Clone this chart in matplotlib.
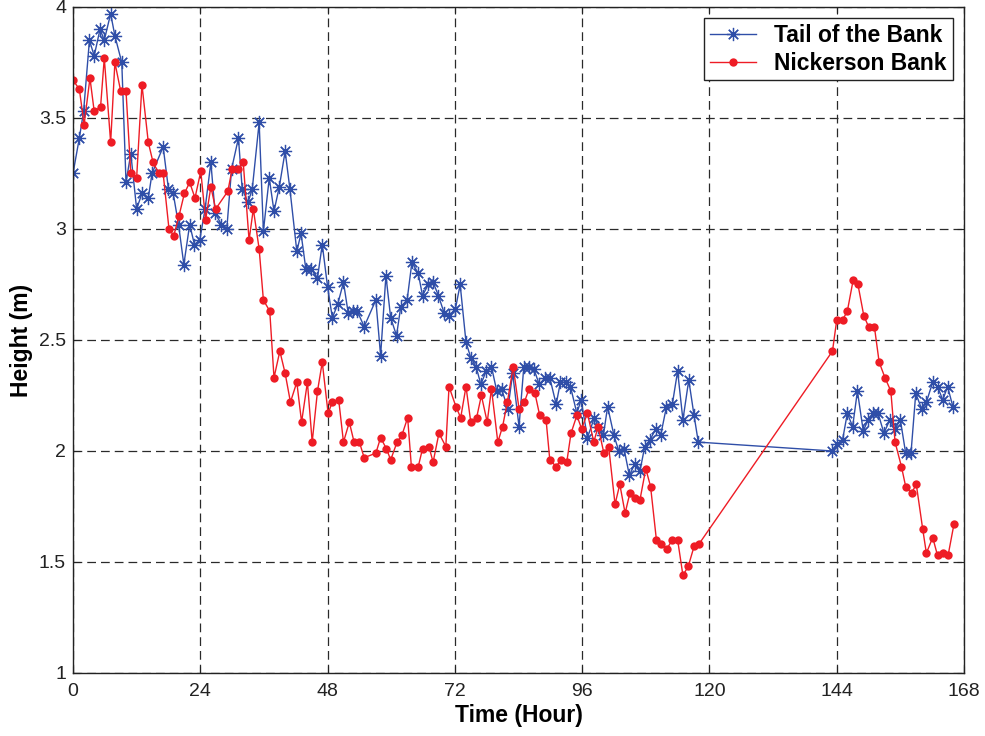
import matplotlib
matplotlib.use("Agg")
import matplotlib.pyplot as plt

# Tail of the Bank (hours, metres)
tail_t = [0.0, 1.2, 2.0, 3.1, 4.0, 5.1, 5.9, 7.1, 7.9, 9.2, 10.0, 10.9, 12.0, 13.0,
          14.2, 14.9, 17.0, 18.0, 18.9, 19.9, 20.9, 22.0, 22.9, 23.9, 24.9, 26.0,
          26.8, 28.0, 29.0, 29.9, 31.2, 31.9, 33.0, 33.8, 35.1, 35.9, 37.0, 37.9,
          38.9, 40.0, 40.9, 42.2, 43.0, 43.9, 44.9, 46.1, 47.0, 48.0, 48.9, 49.9,
          51.0, 51.9, 52.8, 53.6, 54.9, 57.1, 58.0, 59.0, 59.9, 61.0, 61.8, 63.0,
          63.9, 65.1, 65.9, 67.0, 67.9, 68.9, 70.0, 70.9, 72.1, 73.0, 74.1, 75.0,
          76.0, 76.9, 77.9, 78.9, 79.9, 80.8, 82.0, 82.9, 84.1, 85.0, 86.0, 86.9,
          87.9, 89.0, 89.9, 91.1, 91.9, 92.9, 93.8, 95.0, 95.8, 97.0, 98.3, 99.0,
          100.0, 100.8, 102.0, 102.9, 103.9, 104.9, 105.9, 106.9, 107.8, 108.8,
          109.9, 110.8, 111.9, 113.0, 114.0, 115.0, 116.1, 117.1, 117.9,
          143.2, 144.0, 145.1, 146.0, 147.0, 147.9, 149.0, 149.9, 150.9, 151.8,
          152.9, 154.0, 155.0, 156.0, 157.0, 158.0, 158.9, 160.0, 160.9, 162.1,
          163.0, 164.0, 164.9, 165.9]
tail_h = [3.25, 3.41, 3.53, 3.85, 3.78, 3.90, 3.85, 3.97, 3.87, 3.75, 3.21, 3.34, 3.09, 3.16,
          3.14, 3.25, 3.37, 3.18, 3.16, 3.02, 2.84, 3.02, 2.93, 2.95, 3.09, 3.30,
          3.07, 3.02, 3.00, 3.27, 3.41, 3.18, 3.12, 3.18, 3.48, 2.99, 3.23, 3.08,
          3.19, 3.35, 3.18, 2.90, 2.98, 2.82, 2.82, 2.78, 2.93, 2.74, 2.60, 2.66,
          2.76, 2.62, 2.63, 2.63, 2.56, 2.68, 2.43, 2.79, 2.60, 2.52, 2.65, 2.68,
          2.85, 2.80, 2.70, 2.75, 2.76, 2.70, 2.62, 2.61, 2.64, 2.75, 2.49, 2.42,
          2.38, 2.30, 2.36, 2.38, 2.27, 2.28, 2.19, 2.35, 2.11, 2.38, 2.38, 2.37,
          2.30, 2.33, 2.33, 2.21, 2.31, 2.31, 2.29, 2.17, 2.23, 2.06, 2.15, 2.11,
          2.07, 2.20, 2.07, 2.00, 2.01, 1.89, 1.94, 1.91, 2.02, 2.05,
          2.10, 2.07, 2.20, 2.21, 2.36, 2.14, 2.32, 2.16, 2.04,
          2.00, 2.03, 2.05, 2.17, 2.11, 2.27, 2.09, 2.14, 2.17, 2.17,
          2.08, 2.14, 2.10, 2.14, 1.99, 1.99, 2.26, 2.19, 2.22, 2.31,
          2.29, 2.23, 2.29, 2.20]

# Nickerson Bank (hours, metres)
nick_t = [0.0, 1.2, 2.1, 3.2, 4.0, 5.2, 5.9, 7.1, 7.9, 9.0, 10.0, 10.9, 12.0, 13.0,
          14.2, 15.1, 16.2, 17.0, 18.1, 19.0, 20.0, 21.0, 22.0, 23.0, 24.1, 25.0,
          26.0, 26.9, 29.2, 30.0, 31.2, 32.1, 33.2, 34.0, 35.1, 35.9, 37.1, 37.9,
          39.0, 40.0, 41.0, 42.2, 43.1, 44.2, 45.1, 46.1, 47.0, 48.1, 48.9, 50.1,
          51.0, 52.1, 53.0, 54.0, 54.9, 57.1, 58.0, 59.1, 59.9, 61.1, 62.0, 63.1,
          63.8, 65.1, 65.9, 67.1, 67.9, 69.0, 70.3, 70.9, 72.2, 73.1, 74.1, 75.0,
          76.1, 77.0, 78.1, 78.9, 80.1, 81.0, 81.9, 83.0, 84.1, 85.1, 86.0, 87.1,
          88.0, 89.2, 89.9, 91.1, 92.0, 93.1, 93.9, 95.0, 95.9, 97.0, 98.2, 99.0,
          100.1, 101.0, 102.2, 103.1, 104.1, 105.0, 106.0, 106.9, 108.0, 108.9,
          110.0, 110.9, 112.0, 113.0, 114.0, 115.0, 116.0, 117.1, 118.0,
          143.2, 144.0, 145.1, 146.0, 147.1, 148.0, 149.1, 150.0, 151.1, 152.0,
          153.1, 154.2, 155.0, 156.2, 157.0, 158.1, 159.0, 160.2, 160.9, 162.1,
          163.0, 164.1, 165.0, 166.1]
nick_h = [3.67, 3.63, 3.47, 3.68, 3.53, 3.55, 3.77, 3.39, 3.75, 3.62, 3.62, 3.25, 3.23, 3.65,
          3.39, 3.30, 3.25, 3.25, 3.00, 2.97, 3.06, 3.16, 3.21, 3.14, 3.26, 3.04,
          3.19, 3.09, 3.17, 3.27, 3.27, 3.30, 2.95, 3.09, 2.91, 2.68, 2.63, 2.33,
          2.45, 2.35, 2.22, 2.31, 2.13, 2.31, 2.04, 2.27, 2.40, 2.17, 2.22, 2.23,
          2.04, 2.13, 2.04, 2.04, 1.97, 1.99, 2.06, 2.01, 1.96, 2.04, 2.07, 2.15,
          1.93, 1.93, 2.01, 2.02, 1.95, 2.08, 2.02, 2.29, 2.20, 2.15, 2.29, 2.13,
          2.15, 2.25, 2.13, 2.28, 2.04, 2.11, 2.22, 2.38, 2.19, 2.22, 2.28, 2.26,
          2.16, 2.14, 1.96, 1.93, 1.96, 1.95, 2.08, 2.16, 2.10, 2.17, 2.04, 2.11,
          1.99, 2.02, 1.76, 1.85, 1.72, 1.81, 1.79, 1.78, 1.92, 1.84,
          1.60, 1.58, 1.56, 1.60, 1.60, 1.44, 1.48, 1.57, 1.58,
          2.45, 2.59, 2.59, 2.63, 2.77, 2.75, 2.61, 2.56, 2.56, 2.40,
          2.33, 2.27, 2.04, 1.93, 1.84, 1.81, 1.85, 1.65, 1.54, 1.61,
          1.53, 1.54, 1.53, 1.67]

x_ticks = [0, 24, 48, 72, 96, 120, 144, 168]
y_ticks = [1, 1.5, 2, 2.5, 3, 3.5, 4]
y_labels = ["1", "1.5", "2", "2.5", "3", "3.5", "4"]

plt.rcParams['font.family'] = ['Liberation Sans', 'DejaVu Sans']

fig = plt.figure(figsize=(9.85, 7.36), dpi=100)
ax = fig.add_axes([0.0741, 0.0856, 0.9046, 0.9049])

ax.plot(tail_t, tail_h, color='#2f4ea8', lw=1.0, marker=(8, 2, 0), ms=9.5,
        mew=0.9, label='Tail of the Bank')
ax.plot(nick_t, nick_h, color='#ee1c25', lw=1.0, marker='o', ms=6,
        mew=0, label='Nickerson Bank')

ax.set_xlim(0, 168)
ax.set_ylim(1, 4)
ax.set_xticks(x_ticks)
ax.set_yticks(y_ticks)
ax.set_yticklabels(y_labels)
ax.tick_params(direction='in', top=True, right=True, labelsize=14, length=5,
               width=0.8, pad=5, colors='#222222')
ax.tick_params(axis='x', pad=7)
ax.grid(True, color='#2a2a2a', linestyle=(0, (7, 4)), lw=0.9)
for s in ax.spines.values():
    s.set_color('#222222')
    s.set_linewidth(1.0)

ax.set_xlabel('Time (Hour)', fontsize=16.5, fontweight='bold', labelpad=3)
ax.set_ylabel('Height (m)', fontsize=16.5, fontweight='bold', labelpad=4)

leg = ax.legend(loc='upper right', prop={'weight': 'bold', 'size': 16.5},
                fancybox=False, framealpha=1, edgecolor='#222222',
                handlelength=2.0, borderpad=0.25, labelspacing=0.2,
                borderaxespad=0.5)
leg.get_frame().set_linewidth(1.0)

fig.savefig('out.png', dpi=100)
